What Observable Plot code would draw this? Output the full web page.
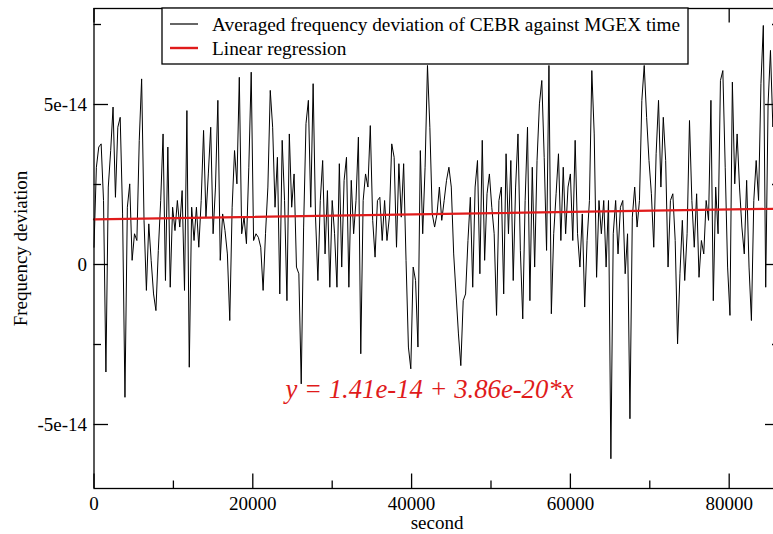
<!DOCTYPE html>
<html>
<head>
<meta charset="utf-8">
<script src="https://cdn.jsdelivr.net/npm/d3@7"></script>
<script src="https://cdn.jsdelivr.net/npm/@observablehq/plot@0.6"></script>
<style>
  html, body { margin: 0; padding: 0; background: #fff; overflow: hidden; }
  #chart { width: 773px; height: 534px; }
</style>
</head>
<body>
<div id="chart"></div>
<script>
// ---- data (values in units of 1e-14, sampled every 300 s) ----
const sampleStepSeconds = 300;
const valueUnit = 1e-14;
const deviationE14 = [
  0.54,3.04,3.67,3.77,2.0,-3.36,2.42,3.56,4.92,2.10,
  4.29,4.60,1.58,-4.15,1.79,2.52,0.13,0.96,0.75,3.88,
  5.80,1.38,-0.81,1.27,0.13,-0.92,-1.44,0.44,2.0,4.08,
  -0.5,3.67,-0.71,1.79,1.06,2.0,1.17,2.31,-0.81,4.81,
  -3.21,1.79,0.75,1.79,0.54,2.0,4.19,1.48,2.83,4.29,
  0.96,2.42,5.13,0.13,1.58,1.06,0.33,-1.75,1.79,3.56,
  2.52,5.85,0.96,1.48,0.65,3.04,6.01,0.75,0.96,0.85,
  0.54,-0.81,0.96,2.42,5.44,4.29,1.79,3.35,-0.92,3.88,
  2.0,-1.13,4.08,1.79,2.83,-0.08,-0.29,-3.73,1.17,4.40,
  5.13,1.79,5.65,1.48,-0.5,2.0,3.25,0.33,2.31,-0.71,
  2.0,0.96,-0.71,3.15,-0.08,2.63,3.35,-0.71,2.63,0.96,
  2.0,3.98,-2.79,2.0,2.83,2.42,4.34,1.38,0.23,2.0,
  2.10,0.75,2.0,0.75,1.48,3.77,3.35,0.54,3.15,1.48,
  3.15,0.13,-2.58,-3.26,-0.08,-0.5,-2.58,3.56,0.96,3.04,
  6.22,4.29,1.58,1.17,1.58,2.42,1.38,2.0,2.63,3.04,
  2.42,0.33,-0.92,-2.17,-3.16,-1.13,-0.92,0.75,2.10,-0.71,
  2.42,3.25,-0.29,3.88,0.13,2.21,2.83,1.79,0.96,-1.59,
  2.0,2.42,-0.92,3.46,0.96,3.25,-0.5,2.42,4.08,0.44,
  -1.70,2.0,4.29,-1.13,3.04,-0.08,3.25,5.02,5.75,3.35,
  0.44,6.22,-1.54,0.96,2.21,3.46,0.75,3.04,0.96,2.42,
  2.83,0.75,3.88,0.96,-0.08,1.58,-1.33,0.75,2.0,6.06,
  4.08,-0.4,2.0,0.96,2.0,-0.08,2.0,-6.07,0.96,2.0,
  0.33,1.79,2.0,-0.29,0.96,-4.82,1.48,2.42,1.17,2.0,
  5.13,6.22,4.60,3.25,2.21,0.54,3.46,5.13,2.42,4.60,
  3.25,-0.08,2.0,2.21,0.75,-2.48,-0.29,1.38,-0.5,0.96,
  4.5,2.0,0.54,2.21,-0.4,0.75,0.33,2.0,1.38,5.13,
  -1.13,2.42,0.96,5.75,6.06,3.04,-0.08,-1.59,5.70,2.52,
  4.08,2.42,1.17,0.33,2.63,-0.08,-1.75,2.0,3.25,2.0,
  5.65,7.47,-0.71,5.02,6.69,4.3,5.2,6.0
];
const regressionIntercept = 1.41e-14;
const regressionSlope = 3.86e-20;
const xDomain = [0, 86400];
const yDomain = [-7e-14, 8e-14];
const xMajorTicks = [0, 20000, 40000, 60000, 80000];
const xMinorTicks = [10000, 30000, 50000, 70000];
const yMajorTicks = [-5e-14, 0, 5e-14];
const yMinorTicks = [-2.5e-14, 2.5e-14, 7.5e-14];
const xLabel = "second";
const yLabel = "Frequency deviation";
const legendLabels = ["Averaged frequency deviation of CEBR against MGEX time", "Linear regression"];
const legendColors = ["#000000", "#e01b1b"];

// ---- build tables ----
const series = deviationE14.map((v, i) => ({t: i * sampleStepSeconds, v: v * valueUnit}));
const regression = xDomain.map(t => ({t, v: regressionIntercept + regressionSlope * t}));
const equation = `y = ${regressionIntercept} + ${regressionSlope}*x`;

// ---- layout ----
const W = 773, H = 534;
const mL = 93.5, mR = -6.5, mT = 8, mB = 46;
const plotW = W - mL - mR, plotH = H - mT - mB;
const majorLen = 14.5, minorLen = 7.5;
const font = "'Liberation Serif', 'Times New Roman', serif";

const chart = Plot.plot({
  width: W, height: H,
  marginLeft: mL, marginRight: mR, marginTop: mT, marginBottom: mB,
  x: {domain: xDomain},
  y: {domain: yDomain},
  style: {fontFamily: font, fontSize: "19px", background: "#fff", color: "#000", overflow: "visible"},
  marks: [
    Plot.line(series, {x: "t", y: "v", stroke: legendColors[0], strokeWidth: 1}),
    Plot.line(regression, {x: "t", y: "v", stroke: legendColors[1], strokeWidth: 2.2}),
    // inward ticks (bottom / top)
    Plot.tickX(xMajorTicks, {x: d => d, insetTop: plotH - majorLen, stroke: "#000", strokeWidth: 1.3}),
    Plot.tickX(xMinorTicks, {x: d => d, insetTop: plotH - minorLen, stroke: "#000", strokeWidth: 1.3}),
    Plot.tickX(xMajorTicks, {x: d => d, insetBottom: plotH - majorLen, stroke: "#000", strokeWidth: 1.3}),
    Plot.tickX(xMinorTicks, {x: d => d, insetBottom: plotH - minorLen, stroke: "#000", strokeWidth: 1.3}),
    // inward ticks (left / right)
    Plot.tickY(yMajorTicks, {y: d => d, insetRight: plotW - majorLen, stroke: "#000", strokeWidth: 1.3}),
    Plot.tickY(yMinorTicks, {y: d => d, insetRight: plotW - minorLen, stroke: "#000", strokeWidth: 1.3}),
    Plot.tickY(yMajorTicks, {y: d => d, insetLeft: plotW - majorLen, stroke: "#000", strokeWidth: 1.3}),
    Plot.tickY(yMinorTicks, {y: d => d, insetLeft: plotW - minorLen, stroke: "#000", strokeWidth: 1.3}),
    Plot.axisX(xMajorTicks, {tickSize: 0, tickPadding: 8, tickFormat: d => String(d), fontSize: 19, label: null}),
    Plot.axisY(yMajorTicks, {tickSize: 0, tickPadding: 7, tickFormat: d => String(d), fontSize: 19, label: null}),
    Plot.frame({stroke: "#000", strokeWidth: 1.3}),
    Plot.text([xLabel], {frameAnchor: "bottom", dy: 34, text: d => d, fontSize: 19, lineAnchor: "middle", textAnchor: "middle"}),
    Plot.text([yLabel], {frameAnchor: "left", dx: -73, rotate: -90, text: d => d, fontSize: 19, lineAnchor: "middle", textAnchor: "middle"}),
    Plot.text([equation], {frameAnchor: "top-left", dx: 285 - mL, dy: 389 - mT, text: d => d, textAnchor: "start",
      lineAnchor: "middle", fill: legendColors[1], fontStyle: "italic", fontSize: 26.7})
  ]
});
document.getElementById("chart").appendChild(chart);

// ---- legend box (inside plot, top) ----
const svg = d3.select(chart);
const lg = svg.append("g").attr("font-family", font).attr("font-size", 19.3).attr("text-anchor", "start");
lg.append("rect").attr("x", 162).attr("y", mT).attr("width", 526).attr("height", 56)
  .attr("fill", "#fff").attr("stroke", "#000").attr("stroke-width", 1.3);
legendLabels.forEach((label, i) => {
  const cy = 24 + i * 24;
  lg.append("line").attr("x1", 170).attr("x2", 198).attr("y1", cy).attr("y2", cy)
    .attr("stroke", legendColors[i]).attr("stroke-width", i === 0 ? 1.2 : 2.4);
  lg.append("text").attr("x", 212).attr("y", cy).attr("dy", "0.35em").attr("fill", "#000")
    .attr("text-anchor", "start").text(label);
});
</script>
</body>
</html>
